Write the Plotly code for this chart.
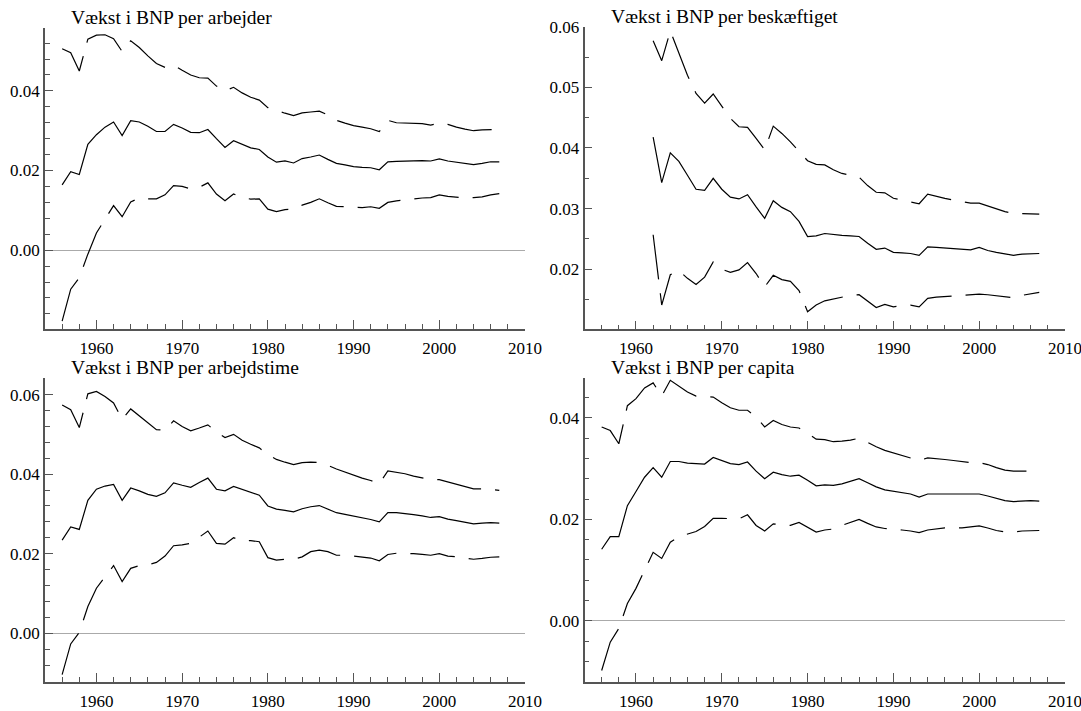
import plotly.graph_objects as go

years_a = list(range(1956, 2008))
years_b = list(range(1962, 2008))

titles = ["Vækst i BNP per arbejder", "Vækst i BNP per beskæftiget",
          "Vækst i BNP per arbejdstime", "Vækst i BNP per capita"]

# Panel 1: per arbejder
mid1 = [0.0164, 0.0197, 0.0190, 0.0266, 0.0290, 0.0309, 0.0322, 0.0288, 0.0325, 0.0322,
        0.0311, 0.0298, 0.0298, 0.0316, 0.0307, 0.0296, 0.0295, 0.0303, 0.0280, 0.0258,
        0.0275, 0.0266, 0.0257, 0.0253, 0.0234, 0.0221, 0.0224, 0.0219, 0.0230, 0.0234,
        0.0239, 0.0228, 0.0218, 0.0214, 0.0210, 0.0208, 0.0207, 0.0202, 0.0222, 0.0223,
        0.0224, 0.0225, 0.0225, 0.0224, 0.0229, 0.0224, 0.0221, 0.0217, 0.0215, 0.0218,
        0.0222, 0.0222]
up1 = [0.0506, 0.0496, 0.0450, 0.0530, 0.0540, 0.0541, 0.0531, 0.0499, 0.0526, 0.0509,
       0.0488, 0.0469, 0.0459, 0.0465, 0.0452, 0.0440, 0.0433, 0.0432, 0.0412, 0.0400,
       0.0409, 0.0395, 0.0384, 0.0377, 0.0358, 0.0350, 0.0344, 0.0338, 0.0345, 0.0347,
       0.0349, 0.0340, 0.0326, 0.0319, 0.0313, 0.0309, 0.0305, 0.0298, 0.0326, 0.0320,
       0.0319, 0.0319, 0.0318, 0.0314, 0.0319, 0.0316, 0.0309, 0.0304, 0.0300, 0.0302,
       0.0303, 0.0303]
lo1 = [-0.0178, -0.0098, -0.0069, -0.0010, 0.0043, 0.0078, 0.0112, 0.0084, 0.0121, 0.0131,
       0.0129, 0.0129, 0.0139, 0.0162, 0.0160, 0.0154, 0.0158, 0.0169, 0.0141, 0.0124,
       0.0141, 0.0133, 0.0128, 0.0129, 0.0103, 0.0097, 0.0102, 0.0103, 0.0113, 0.0120,
       0.0129, 0.0119, 0.0110, 0.0109, 0.0108, 0.0107, 0.0109, 0.0105, 0.0120, 0.0124,
       0.0126, 0.0129, 0.0131, 0.0132, 0.0139, 0.0135, 0.0133, 0.0131, 0.0132, 0.0134,
       0.0139, 0.0142]

# Panel 2: per beskæftiget (1962-2007)
mid2 = [0.0418, 0.0343, 0.0392, 0.0378, 0.0355, 0.0332, 0.0330, 0.0350, 0.0332, 0.0319,
        0.0316, 0.0323, 0.0303, 0.0284, 0.0313, 0.0302, 0.0295, 0.0279, 0.0254, 0.0255,
        0.0259, 0.0257, 0.0256, 0.0255, 0.0254, 0.0243, 0.0233, 0.0235, 0.0228, 0.0227,
        0.0226, 0.0223, 0.0237, 0.0236, 0.0235, 0.0235, 0.0233, 0.0232, 0.0236, 0.0231,
        0.0228, 0.0225, 0.0223, 0.0225, 0.0226, 0.0226]
up2 = [0.0577, 0.0544, 0.0593, 0.0558, 0.0520, 0.0490, 0.0474, 0.0489, 0.0468, 0.0449,
       0.0435, 0.0434, 0.0416, 0.0397, 0.0436, 0.0424, 0.0410, 0.0394, 0.0379, 0.0373,
       0.0372, 0.0364, 0.0358, 0.0355, 0.0352, 0.0338, 0.0327, 0.0326, 0.0317, 0.0314,
       0.0311, 0.0308, 0.0324, 0.0320, 0.0317, 0.0314, 0.0312, 0.0309, 0.0309, 0.0304,
       0.0299, 0.0295, 0.0292, 0.0292, 0.0292, 0.0291]
lo2 = [0.0257, 0.0141, 0.0191, 0.0198, 0.0185, 0.0175, 0.0187, 0.0212, 0.0200, 0.0195,
       0.0199, 0.0211, 0.0193, 0.0171, 0.0190, 0.0183, 0.0180, 0.0165, 0.0130, 0.0141,
       0.0148, 0.0151, 0.0154, 0.0157, 0.0158, 0.0148, 0.0137, 0.0142, 0.0138, 0.0140,
       0.0141, 0.0138, 0.0152, 0.0154, 0.0155, 0.0156, 0.0157, 0.0158, 0.0159, 0.0158,
       0.0156, 0.0154, 0.0153, 0.0157, 0.0160, 0.0162]

# Panel 3: per arbejdstime
mid3 = [0.0234, 0.0267, 0.0261, 0.0334, 0.0362, 0.0370, 0.0374, 0.0334, 0.0365, 0.0358,
        0.0349, 0.0344, 0.0353, 0.0378, 0.0372, 0.0367, 0.0379, 0.0390, 0.0362, 0.0358,
        0.0369, 0.0361, 0.0354, 0.0347, 0.0320, 0.0312, 0.0309, 0.0305, 0.0313, 0.0318,
        0.0321, 0.0313, 0.0303, 0.0299, 0.0295, 0.0290, 0.0286, 0.0280, 0.0303, 0.0303,
        0.0301, 0.0298, 0.0295, 0.0291, 0.0293, 0.0287, 0.0283, 0.0279, 0.0275, 0.0277,
        0.0278, 0.0277]
up3 = [0.0574, 0.0562, 0.0517, 0.0602, 0.0608, 0.0595, 0.0579, 0.0538, 0.0564, 0.0547,
       0.0528, 0.0512, 0.0510, 0.0534, 0.0520, 0.0509, 0.0516, 0.0524, 0.0506, 0.0492,
       0.0500, 0.0485, 0.0475, 0.0466, 0.0449, 0.0437, 0.0430, 0.0424, 0.0429, 0.0430,
       0.0429, 0.0422, 0.0413, 0.0405, 0.0398, 0.0390, 0.0384, 0.0376, 0.0408, 0.0405,
       0.0401, 0.0395, 0.0390, 0.0386, 0.0386, 0.0380, 0.0374, 0.0368, 0.0363, 0.0363,
       0.0362, 0.0359]
lo3 = [-0.0104, -0.0027, 0.0002, 0.0067, 0.0113, 0.0142, 0.0170, 0.0130, 0.0163, 0.0170,
       0.0172, 0.0178, 0.0194, 0.0220, 0.0222, 0.0226, 0.0242, 0.0257, 0.0226, 0.0224,
       0.0240, 0.0232, 0.0233, 0.0230, 0.0190, 0.0184, 0.0186, 0.0186, 0.0192, 0.0205,
       0.0209, 0.0205, 0.0196, 0.0196, 0.0194, 0.0192, 0.0189, 0.0182, 0.0198, 0.0201,
       0.0201, 0.0200, 0.0198, 0.0196, 0.0200, 0.0194, 0.0192, 0.0189, 0.0186, 0.0188,
       0.0191, 0.0192]

# Panel 4: per capita
mid4 = [0.0141, 0.0166, 0.0166, 0.0227, 0.0255, 0.0283, 0.0302, 0.0283, 0.0314, 0.0314,
        0.0311, 0.0310, 0.0309, 0.0322, 0.0316, 0.0310, 0.0308, 0.0313, 0.0295, 0.0280,
        0.0293, 0.0288, 0.0285, 0.0287, 0.0277, 0.0266, 0.0268, 0.0267, 0.0270, 0.0275,
        0.0280, 0.0272, 0.0264, 0.0258, 0.0255, 0.0252, 0.0250, 0.0244, 0.0250, 0.0250,
        0.0250, 0.0250, 0.0249, 0.0249, 0.0250, 0.0246, 0.0242, 0.0237, 0.0235, 0.0236,
        0.0237, 0.0236]
up4 = [0.0382, 0.0375, 0.0349, 0.0424, 0.0438, 0.0459, 0.0469, 0.0443, 0.0474, 0.0463,
       0.0451, 0.0443, 0.0442, 0.0441, 0.0430, 0.0420, 0.0415, 0.0415, 0.0402, 0.0382,
       0.0395, 0.0387, 0.0382, 0.0380, 0.0370, 0.0358, 0.0357, 0.0353, 0.0354, 0.0356,
       0.0360, 0.0351, 0.0343, 0.0336, 0.0331, 0.0326, 0.0322, 0.0316, 0.0321, 0.0320,
       0.0318, 0.0316, 0.0314, 0.0312, 0.0312, 0.0308, 0.0302, 0.0297, 0.0295, 0.0295,
       0.0295, 0.0293]
lo4 = [-0.0098, -0.0042, -0.0015, 0.0034, 0.0064, 0.0099, 0.0135, 0.0123, 0.0155, 0.0166,
       0.0171, 0.0176, 0.0186, 0.0202, 0.0202, 0.0202, 0.0201, 0.0209, 0.0188, 0.0177,
       0.0191, 0.0189, 0.0188, 0.0194, 0.0184, 0.0175, 0.0179, 0.0181, 0.0188, 0.0194,
       0.0200, 0.0192, 0.0185, 0.0182, 0.0181, 0.0179, 0.0177, 0.0174, 0.0179, 0.0181,
       0.0183, 0.0183, 0.0183, 0.0185, 0.0187, 0.0183, 0.0178, 0.0175, 0.0175, 0.0177,
       0.0177, 0.0178]

W, H = 1081, 711
FONT = "Liberation Serif, Times New Roman, serif"
AX = "#555555"
DASH = "45px,14px"

panels = [
    dict(x=years_a, mid=mid1, up=up1, lo=lo1, xd=(45, 525), yd=(28, 329),
         yr=(-0.0198, 0.0558), dt=0.02, mdt=0.004),
    dict(x=years_b, mid=mid2, up=up2, lo=lo2, xd=(584.5, 1065), yd=(26.7, 329.3),
         yr=(0.0101, 0.06), dt=0.01, mdt=0.005),
    dict(x=years_a, mid=mid3, up=up3, lo=lo3, xd=(45, 525), yd=(378.3, 681.7),
         yr=(-0.0122, 0.0641), dt=0.02, mdt=0.004),
    dict(x=years_a, mid=mid4, up=up4, lo=lo4, xd=(584.5, 1065), yd=(378.3, 681.7),
         yr=(-0.0120, 0.0478), dt=0.02, mdt=0.004),
]


def px_x(v):
    return v / W


def px_y(v):
    return 1 - v / H


fig = go.Figure()
layout = dict(width=W, height=H, margin=dict(l=0, r=0, t=0, b=0, autoexpand=False),
              paper_bgcolor="white", plot_bgcolor="white", showlegend=False,
              font=dict(family=FONT, size=17, color="black"))
annotations = []
for i, p in enumerate(panels, start=1):
    sfx = "" if i == 1 else str(i)
    xa, ya = "x" + sfx, "y" + sfx
    for arr, dash in ((p["up"], DASH), (p["mid"], "solid"), (p["lo"], DASH)):
        fig.add_trace(go.Scatter(x=p["x"], y=arr, mode="lines", xaxis=xa, yaxis=ya,
                                 line=dict(color="black", width=1.2, dash=dash),
                                 hoverinfo="skip"))
    layout["xaxis" + sfx] = dict(
        domain=[px_x(p["xd"][0]), px_x(p["xd"][1])], anchor=ya, range=[1954, 2010],
        automargin=False, ticklabeloverflow="allow", ticklabelstandoff=3,
        showgrid=False, zeroline=False, showline=True, linecolor=AX, linewidth=1.5,
        ticks="inside", ticklen=9, tickwidth=1.3, tickcolor=AX, dtick=10, tick0=1960,
        tickfont=dict(family=FONT, size=17, color="black"),
        minor=dict(ticks="inside", ticklen=5, tickwidth=1, tickcolor=AX, dtick=2, tick0=1956),
    )
    layout["yaxis" + sfx] = dict(
        domain=[px_y(p["yd"][1]), px_y(p["yd"][0])], anchor=xa, range=list(p["yr"]),
        automargin=False, ticklabeloverflow="allow",
        showgrid=False, zeroline=True, zerolinecolor="#aaaaaa", zerolinewidth=1.3,
        showline=True, linecolor=AX, linewidth=1.5,
        ticks="inside", ticklen=8, tickwidth=1.3, tickcolor=AX, dtick=p["dt"], tick0=0,
        tickformat=".2f", tickfont=dict(family=FONT, size=17, color="black"),
        minor=dict(ticks="inside", ticklen=5, tickwidth=1, tickcolor=AX, dtick=p["mdt"], tick0=0),
    )
    annotations.append(dict(
        text=titles[i - 1], xref="paper", yref="paper", showarrow=False,
        x=px_x(p["xd"][0] + 25), xanchor="left",
        y=px_y(p["yd"][0] + 1), yanchor="bottom", borderpad=0,
        font=dict(family=FONT, size=19.5, color="black"),
    ))
layout["annotations"] = annotations
fig.update_layout(**layout)
fig.write_html("out.html", config={"displayModeBar": False},
               post_script="document.body.style.margin='0';document.body.style.overflow='hidden';")
